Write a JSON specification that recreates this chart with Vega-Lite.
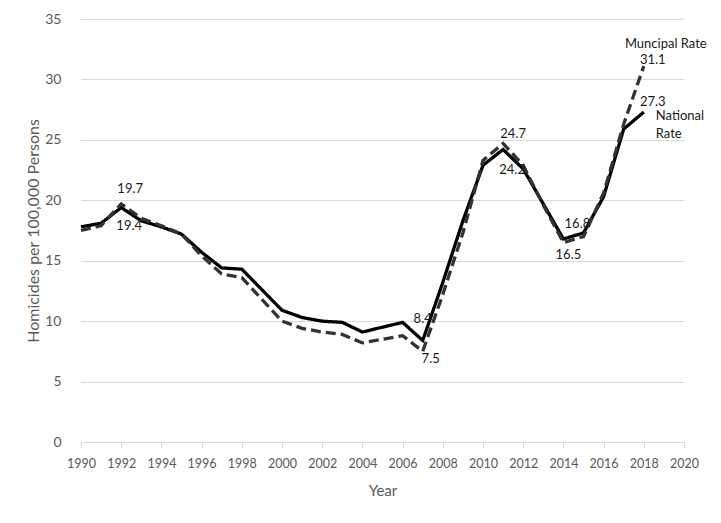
{
  "$schema": "https://vega.github.io/schema/vega-lite/v6.json",
  "width": 603,
  "height": 423,
  "autosize": {"type": "none"},
  "padding": {"left": 81, "top": 19, "right": 37, "bottom": 81},
  "background": "white",
  "config": {
    "font": "Lato",
    "view": {"stroke": null},
    "axis": {"labelColor": "#595959", "titleColor": "#595959", "titleFontWeight": "normal"}
  },
  "datasets": {
    "rates": [
      {"year": 1990, "series": "National", "value": 17.8}, {"year": 1990, "series": "Municipal", "value": 17.5},
      {"year": 1991, "series": "National", "value": 18.1}, {"year": 1991, "series": "Municipal", "value": 17.9},
      {"year": 1992, "series": "National", "value": 19.4}, {"year": 1992, "series": "Municipal", "value": 19.7},
      {"year": 1993, "series": "National", "value": 18.3}, {"year": 1993, "series": "Municipal", "value": 18.5},
      {"year": 1994, "series": "National", "value": 17.8}, {"year": 1994, "series": "Municipal", "value": 17.9},
      {"year": 1995, "series": "National", "value": 17.2}, {"year": 1995, "series": "Municipal", "value": 17.2},
      {"year": 1996, "series": "National", "value": 15.7}, {"year": 1996, "series": "Municipal", "value": 15.4},
      {"year": 1997, "series": "National", "value": 14.4}, {"year": 1997, "series": "Municipal", "value": 13.9},
      {"year": 1998, "series": "National", "value": 14.3}, {"year": 1998, "series": "Municipal", "value": 13.6},
      {"year": 1999, "series": "National", "value": 12.6}, {"year": 1999, "series": "Municipal", "value": 11.8},
      {"year": 2000, "series": "National", "value": 10.9}, {"year": 2000, "series": "Municipal", "value": 10.0},
      {"year": 2001, "series": "National", "value": 10.3}, {"year": 2001, "series": "Municipal", "value": 9.4},
      {"year": 2002, "series": "National", "value": 10.0}, {"year": 2002, "series": "Municipal", "value": 9.1},
      {"year": 2003, "series": "National", "value": 9.9}, {"year": 2003, "series": "Municipal", "value": 8.9},
      {"year": 2004, "series": "National", "value": 9.1}, {"year": 2004, "series": "Municipal", "value": 8.2},
      {"year": 2005, "series": "National", "value": 9.5}, {"year": 2005, "series": "Municipal", "value": 8.5},
      {"year": 2006, "series": "National", "value": 9.9}, {"year": 2006, "series": "Municipal", "value": 8.8},
      {"year": 2007, "series": "National", "value": 8.4}, {"year": 2007, "series": "Municipal", "value": 7.5},
      {"year": 2008, "series": "National", "value": 13.2}, {"year": 2008, "series": "Municipal", "value": 12.2},
      {"year": 2009, "series": "National", "value": 18.3}, {"year": 2009, "series": "Municipal", "value": 17.3},
      {"year": 2010, "series": "National", "value": 22.9}, {"year": 2010, "series": "Municipal", "value": 23.3},
      {"year": 2011, "series": "National", "value": 24.2}, {"year": 2011, "series": "Municipal", "value": 24.7},
      {"year": 2012, "series": "National", "value": 22.6}, {"year": 2012, "series": "Municipal", "value": 22.9},
      {"year": 2013, "series": "National", "value": 19.7}, {"year": 2013, "series": "Municipal", "value": 19.6},
      {"year": 2014, "series": "National", "value": 16.8}, {"year": 2014, "series": "Municipal", "value": 16.5},
      {"year": 2015, "series": "National", "value": 17.3}, {"year": 2015, "series": "Municipal", "value": 17.0},
      {"year": 2016, "series": "National", "value": 20.3}, {"year": 2016, "series": "Municipal", "value": 20.6},
      {"year": 2017, "series": "National", "value": 25.9}, {"year": 2017, "series": "Municipal", "value": 26.3},
      {"year": 2018, "series": "National", "value": 27.3}, {"year": 2018, "series": "Municipal", "value": 31.1}
    ],
    "labels": [
      {"id": "a", "year": 1992, "value": 19.7, "text": "19.7"},
      {"id": "b", "year": 1992, "value": 19.4, "text": "19.4"},
      {"id": "c", "year": 2007, "value": 8.4, "text": "8.4"},
      {"id": "d", "year": 2007, "value": 7.5, "text": "7.5"},
      {"id": "e", "year": 2011, "value": 24.7, "text": "24.7"},
      {"id": "f", "year": 2011, "value": 24.2, "text": "24.2"},
      {"id": "g", "year": 2014, "value": 16.8, "text": "16.8"},
      {"id": "h", "year": 2014, "value": 16.5, "text": "16.5"},
      {"id": "i", "year": 2018, "value": 31.1, "text": "31.1"},
      {"id": "j", "year": 2018, "value": 31.1, "text": "Muncipal Rate"},
      {"id": "k", "year": 2018, "value": 27.3, "text": "27.3"},
      {"id": "l", "year": 2018, "value": 27.3, "text": "National"},
      {"id": "m", "year": 2018, "value": 27.3, "text": "Rate"}
    ]
  },
  "encoding": {
    "x": {
      "field": "year", "type": "quantitative",
      "scale": {"domain": [1990, 2020], "nice": false, "zero": false},
      "axis": {
        "title": "Year", "titleFontSize": 15, "titlePadding": 14,
        "values": [1990,1992,1994,1996,1998,2000,2002,2004,2006,2008,2010,2012,2014,2016,2018,2020],
        "format": "d", "labelFontSize": 12.5, "labelPadding": 9, "labelFlush": false,
        "grid": false, "domainColor": "#d9d9d9", "tickColor": "#d9d9d9", "tickSize": 6
      }
    },
    "y": {
      "field": "value", "type": "quantitative",
      "scale": {"domain": [0, 35], "nice": false},
      "axis": {
        "title": "Homicides per 100,000 Persons", "titleFontSize": 16, "titlePadding": 3,
        "values": [0,5,10,15,20,25,30,35], "labelFontSize": 14, "labelPadding": 20,
        "domain": false, "ticks": false, "gridColor": "#d9d9d9"
      }
    }
  },
  "layer": [
    {
      "data": {"name": "rates"},
      "mark": {"type": "line", "strokeWidth": 3.3},
      "encoding": {
        "color": {"field": "series", "type": "nominal", "scale": {"domain": ["National", "Municipal"], "range": ["#000000", "#333333"]}, "legend": null},
        "strokeDash": {"field": "series", "type": "nominal", "scale": {"domain": ["National", "Municipal"], "range": [[1, 0], [10, 5]]}, "legend": null}
      }
    },
    {"data": {"name": "labels"}, "transform": [{"filter": "datum.id == 'a'"}], "mark": {"type": "text", "fontSize": 13, "color": "#1a1a1a", "dx": 9, "dy": -15}, "encoding": {"text": {"field": "text"}}},
    {"data": {"name": "labels"}, "transform": [{"filter": "datum.id == 'b'"}], "mark": {"type": "text", "fontSize": 13, "color": "#1a1a1a", "dx": 8, "dy": 18}, "encoding": {"text": {"field": "text"}}},
    {"data": {"name": "labels"}, "transform": [{"filter": "datum.id == 'c'"}], "mark": {"type": "text", "fontSize": 13, "color": "#1a1a1a", "dx": 0, "dy": -21}, "encoding": {"text": {"field": "text"}}},
    {"data": {"name": "labels"}, "transform": [{"filter": "datum.id == 'd'"}], "mark": {"type": "text", "fontSize": 13, "color": "#1a1a1a", "dx": 8, "dy": 8}, "encoding": {"text": {"field": "text"}}},
    {"data": {"name": "labels"}, "transform": [{"filter": "datum.id == 'e'"}], "mark": {"type": "text", "fontSize": 13, "color": "#1a1a1a", "dx": 10, "dy": -9}, "encoding": {"text": {"field": "text"}}},
    {"data": {"name": "labels"}, "transform": [{"filter": "datum.id == 'f'"}], "mark": {"type": "text", "fontSize": 13, "color": "#1a1a1a", "dx": 9, "dy": 20}, "encoding": {"text": {"field": "text"}}},
    {"data": {"name": "labels"}, "transform": [{"filter": "datum.id == 'g'"}], "mark": {"type": "text", "fontSize": 13, "color": "#1a1a1a", "dx": 14, "dy": -15}, "encoding": {"text": {"field": "text"}}},
    {"data": {"name": "labels"}, "transform": [{"filter": "datum.id == 'h'"}], "mark": {"type": "text", "fontSize": 13, "color": "#1a1a1a", "dx": 5, "dy": 12}, "encoding": {"text": {"field": "text"}}},
    {"data": {"name": "labels"}, "transform": [{"filter": "datum.id == 'i'"}], "mark": {"type": "text", "fontSize": 13, "color": "#1a1a1a", "dx": 9, "dy": -6}, "encoding": {"text": {"field": "text"}}},
    {"data": {"name": "labels"}, "transform": [{"filter": "datum.id == 'j'"}], "mark": {"type": "text", "fontSize": 13, "color": "#1a1a1a", "dx": 22, "dy": -22}, "encoding": {"text": {"field": "text"}}},
    {"data": {"name": "labels"}, "transform": [{"filter": "datum.id == 'k'"}], "mark": {"type": "text", "fontSize": 13, "color": "#1a1a1a", "dx": 9, "dy": -10}, "encoding": {"text": {"field": "text"}}},
    {"data": {"name": "labels"}, "transform": [{"filter": "datum.id == 'l'"}], "mark": {"type": "text", "fontSize": 13, "color": "#1a1a1a", "align": "left", "dx": 12, "dy": 4}, "encoding": {"text": {"field": "text"}}},
    {"data": {"name": "labels"}, "transform": [{"filter": "datum.id == 'm'"}], "mark": {"type": "text", "fontSize": 13, "color": "#1a1a1a", "align": "left", "dx": 12, "dy": 22}, "encoding": {"text": {"field": "text"}}}
  ]
}
